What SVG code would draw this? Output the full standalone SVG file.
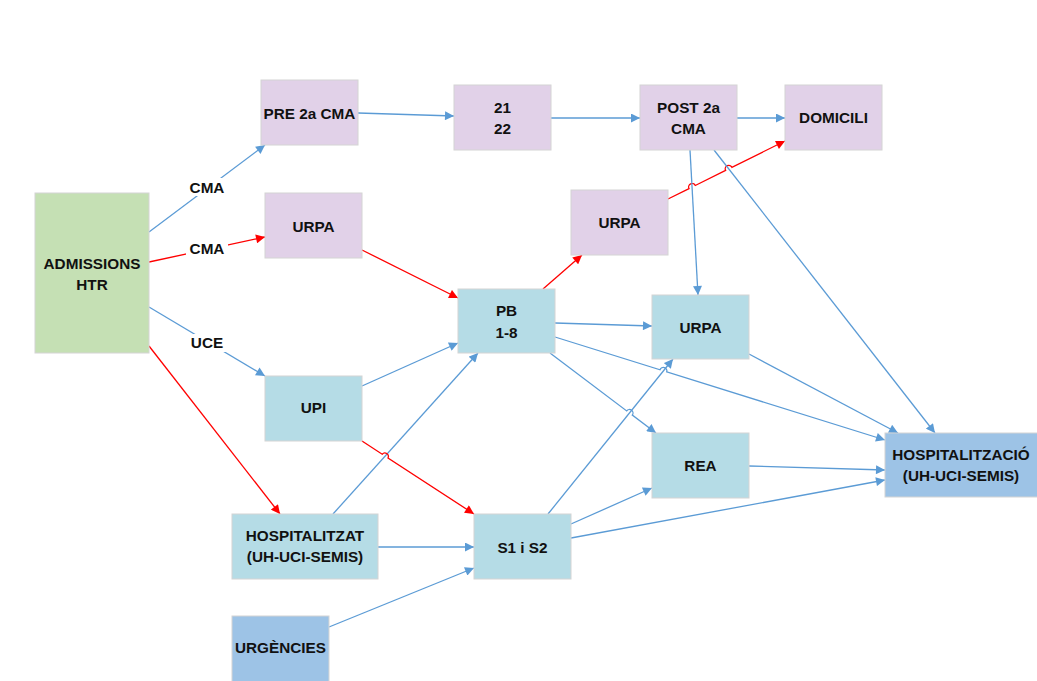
<svg xmlns="http://www.w3.org/2000/svg" width="1037" height="681" viewBox="0 0 1037 681">
<defs>
<style>
.box{stroke:#d4d4d4;stroke-width:1}
.pur{fill:#E1D1E8}
.blu{fill:#B5DCE6}
.grn{fill:#C5E0B4}
.dbl{fill:#9DC3E6}
text{font-family:"Liberation Sans",Arial,sans-serif;font-weight:bold;font-size:15.3px;fill:#111;text-anchor:middle}
.b{fill:none;stroke:#5B9BD5;stroke-width:1.3;marker-end:url(#ab)}
.r{fill:none;stroke:#FF0000;stroke-width:1.3;marker-end:url(#ar)}
.lbl{fill:#fff}
</style>
<marker id="ab" viewBox="0 0 10 10" refX="10" refY="5" markerWidth="10" markerHeight="9" markerUnits="userSpaceOnUse" orient="auto"><path d="M0,0 L10,5 L0,10 z" fill="#5B9BD5"/></marker>
<marker id="ar" viewBox="0 0 10 10" refX="10" refY="5" markerWidth="10" markerHeight="9" markerUnits="userSpaceOnUse" orient="auto"><path d="M0,0 L10,5 L0,10 z" fill="#FF0000"/></marker>
</defs>
<rect width="1037" height="681" fill="#fff"/>
<g id="connectors">
<path class="b" d="M149,232 L265,145"/>
<path class="r" d="M149,262 L265,237"/>
<path class="b" d="M149,307 L265,376"/>
<path class="r" d="M149,346 L280,514"/>
<path class="b" d="M358,113 L454,116"/>
<path class="b" d="M551,118 L640,118"/>
<path class="b" d="M737,118 L785,118"/>
<path class="r" d="M668,199 L689,188.6 A3.5,3.5 0 0 1 695.3,185.5 L725.6,170.4 A3.5,3.5 0 0 1 731.9,167.3 L785,141"/>
<path class="b" d="M690,150 L698,295"/>
<path class="b" d="M714,150 L935,433"/>
<path class="r" d="M362,250 L458,298"/>
<path class="r" d="M543,289 L582,255"/>
<path class="b" d="M555,323 L652,326"/>
<path class="b" d="M555,337 L660,369.8 A3.5,3.5 0 0 1 666.7,371.9 L885,440"/>
<path class="b" d="M550,353 L626.7,410.9 A3.5,3.5 0 0 1 632.3,415.1 L656,433"/>
<path class="b" d="M749,354 L898,433"/>
<path class="b" d="M749,466 L885,470"/>
<path class="b" d="M571,524 L652,488"/>
<path class="b" d="M571,538 L885,480"/>
<path class="b" d="M548,514 L673,359"/>
<path class="b" d="M362,386 L458,343"/>
<path class="b" d="M333,514 L478,353"/>
<path class="r" d="M362,441 L382.2,454.2 A3.5,3.5 0 0 1 388,458 L474,514"/>
<path class="b" d="M378,547 L474,547"/>
<path class="b" d="M329,627 L474,568"/>
<rect class="lbl" x="186" y="178" width="42" height="18"/>
<rect class="lbl" x="186" y="240" width="42" height="18"/>
<rect class="lbl" x="187" y="334" width="40" height="18"/>
<text x="207" y="193">CMA</text>
<text x="207" y="254">CMA</text>
<text x="207" y="348">UCE</text>
</g>
<g id="admissions"><rect class="box grn" x="35" y="193" width="114" height="160"/><text x="92" y="269">ADMISSIONS</text><text x="92" y="290">HTR</text></g>
<g id="pre2a"><rect class="box pur" x="261" y="80" width="97" height="65"/><text x="309.5" y="119">PRE 2a CMA</text></g>
<g id="urpa1"><rect class="box pur" x="265" y="193" width="97" height="65"/><text x="313.5" y="232">URPA</text></g>
<g id="n2122"><rect class="box pur" x="454" y="85" width="97" height="65"/><text x="502.5" y="113">21</text><text x="502.5" y="134">22</text></g>
<g id="post2a"><rect class="box pur" x="640" y="85" width="97" height="65"/><text x="688.5" y="113">POST 2a</text><text x="688.5" y="134">CMA</text></g>
<g id="domicili"><rect class="box pur" x="785" y="85" width="97" height="65"/><text x="833.5" y="123">DOMICILI</text></g>
<g id="urpa2"><rect class="box pur" x="571" y="190" width="97" height="65"/><text x="619.5" y="228">URPA</text></g>
<g id="pb"><rect class="box blu" x="458" y="289" width="97" height="64"/><text x="506.5" y="316">PB</text><text x="506.5" y="338">1-8</text></g>
<g id="urpa3"><rect class="box blu" x="652" y="295" width="97" height="64"/><text x="700.5" y="333">URPA</text></g>
<g id="rea"><rect class="box blu" x="652" y="433" width="97" height="65"/><text x="700.5" y="471">REA</text></g>
<g id="hospitalitzacio"><rect class="box dbl" x="885" y="433" width="154" height="64"/><text x="961" y="460">HOSPITALITZACIÓ</text><text x="961" y="481">(UH-UCI-SEMIS)</text></g>
<g id="upi"><rect class="box blu" x="265" y="376" width="97" height="65"/><text x="313.5" y="413">UPI</text></g>
<g id="hospitalitzat"><rect class="box blu" x="232" y="514" width="146" height="65"/><text x="305" y="541">HOSPITALITZAT</text><text x="305" y="562">(UH-UCI-SEMIS)</text></g>
<g id="s1s2"><rect class="box blu" x="474" y="514" width="97" height="65"/><text x="522.5" y="553">S1 i S2</text></g>
<g id="urgencies"><rect class="box dbl" x="232" y="616" width="97" height="70"/><text x="280.5" y="653">URGÈNCIES</text></g>
</svg>
